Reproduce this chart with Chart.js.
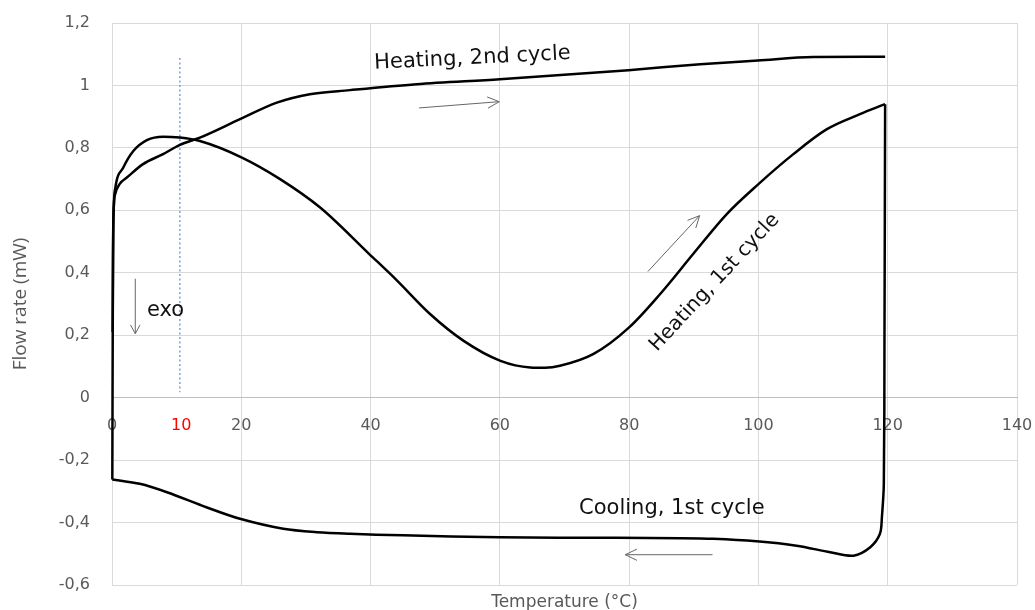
<!DOCTYPE html>
<html>
<head>
<meta charset="utf-8">
<script src="https://cdn.jsdelivr.net/npm/chart.js@4.4.1/dist/chart.umd.min.js"></script>
<style>
  html, body { margin: 0; padding: 0; background: #fff; }
  #wrap { width: 1035px; height: 610px; position: relative; }
</style>
</head>
<body>
<div id="wrap"><canvas id="dsc"></canvas></div>
<script>
// heating, 1st cycle (temperature °C / flow rate mW)
const heat1X = [0.1, 0.2, 0.5, 1.75, 3.3, 5.4, 7.9, 10.5, 13.6, 20.1, 26.0, 32.2, 39.8, 44.1, 49.2, 54.4, 60.1, 64.7, 67.0, 69.3, 74.5, 80.0, 84.8, 89.9, 95.1, 100.0, 105.4, 110.6, 115.7, 119.6];
const heat1Y = [0.21, 0.55, 0.67, 0.737, 0.79, 0.825, 0.836, 0.833, 0.822, 0.769, 0.700, 0.609, 0.460, 0.375, 0.268, 0.182, 0.118, 0.097, 0.096, 0.102, 0.14, 0.225, 0.332, 0.46, 0.588, 0.684, 0.78, 0.86, 0.908, 0.94];

// cooling, 1st cycle
const coolX = [119.6, 119.5, 119.4, 119.1, 118.8, 117.3, 114.7, 111.1, 105.9, 99.7, 93.0, 87.9, 78.1, 60, 45, 36.8, 31.7, 26.5, 19.8, 14.6, 8.5, 4.3, 0.05];
const coolY = [0.94, 0.2, -0.276, -0.383, -0.436, -0.479, -0.506, -0.495, -0.474, -0.46, -0.452, -0.45, -0.449, -0.447, -0.441, -0.436, -0.431, -0.42, -0.388, -0.351, -0.303, -0.276, -0.262];

// heating, 2nd cycle
const heat2X = [0.05, 0.15, 0.3, 0.5, 1.2, 2.3, 4.8, 7.9, 10.5, 13.6, 19.8, 25.5, 30.6, 36.8, 47.1, 60, 79.9, 91, 99.9, 108.5, 119.6];
const heat2Y = [-0.262, 0.45, 0.62, 0.652, 0.685, 0.705, 0.748, 0.78, 0.81, 0.833, 0.892, 0.945, 0.972, 0.985, 1.004, 1.02, 1.049, 1.068, 1.08, 1.091, 1.092];

const toPoints = (xs, ys) => xs.map((v, i) => ({ x: v, y: ys[i] }));
const fmt = v => String(Math.round(v * 10) / 10).replace('.', ',');

const grey = '#595959';
const wide = '"DejaVu Sans", sans-serif';

function arrow(ctx, x1, y1, x2, y2, h, ang) {
  const a = Math.atan2(y2 - y1, x2 - x1);
  ctx.beginPath();
  ctx.moveTo(x1, y1);
  ctx.lineTo(x2, y2);
  ctx.moveTo(x2 - h * Math.cos(a - ang), y2 - h * Math.sin(a - ang));
  ctx.lineTo(x2, y2);
  ctx.lineTo(x2 - h * Math.cos(a + ang), y2 - h * Math.sin(a + ang));
  ctx.stroke();
}

// dotted marker, arrows and the hand-written labels
const notesPlugin = {
  id: 'notes',
  beforeDatasetsDraw(chart) {
    const { ctx, scales: { x, y } } = chart;
    ctx.save();
    ctx.strokeStyle = '#5b8ad8';
    ctx.lineWidth = 1.2;
    ctx.setLineDash([2, 2.5]);
    ctx.beginPath();
    ctx.moveTo(x.getPixelForValue(10.5), y.getPixelForValue(1.088));
    ctx.lineTo(x.getPixelForValue(10.5), y.getPixelForValue(0.017));
    ctx.stroke();
    ctx.restore();
  },
  afterDatasetsDraw(chart) {
    const { ctx, scales: { x, y }, chartArea } = chart;
    const px = v => x.getPixelForValue(v);
    const py = v => y.getPixelForValue(v);
    ctx.save();

    ctx.strokeStyle = '#666';
    ctx.lineWidth = 1;
    arrow(ctx, px(47.5), py(0.928), px(59.9), py(0.948), 13, 0.45);
    arrow(ctx, px(82.9), py(0.404), px(90.9), py(0.583), 13, 0.45);
    arrow(ctx, px(92.9), py(-0.503), px(79.4), py(-0.503), 13, 0.45);
    arrow(ctx, px(3.6), py(0.381), px(3.6), py(0.205), 10, 0.5);

    ctx.fillStyle = '#111';
    ctx.textBaseline = 'alphabetic';
    const notes = [
      ['Heating, 2nd cycle', 55.8, 1.069, -2.9, 'center', 21],
      ['Heating, 1st cycle', 93.8, 0.357, -47, 'center', 20],
      ['Cooling, 1st cycle', 86.6, -0.372, 0, 'center', 21],
      ['exo', 5.4, 0.262, 0, 'left', 21]
    ];
    notes.forEach(([t, vx, vy, deg, align, size]) => {
      ctx.save();
      ctx.font = size + 'px ' + wide;
      ctx.translate(px(vx), py(vy));
      ctx.rotate(deg * Math.PI / 180);
      ctx.textAlign = align;
      ctx.fillText(t, 0, 0);
      ctx.restore();
    });

    // red label for the 10 °C marker, on the tick row
    ctx.font = '16px ' + wide;
    ctx.fillStyle = '#ff0000';
    ctx.textAlign = 'center';
    ctx.textBaseline = 'middle';
    ctx.fillText('10', px(10.7), py(0) + 19 + 9.6);

    // x axis title sits at the bottom edge, not at the crossing axis
    ctx.font = '17px ' + wide;
    ctx.fillStyle = grey;
    ctx.textBaseline = 'alphabetic';
    ctx.fillText('Temperature (°C)', (chartArea.left + chartArea.right) / 2, 607);
    ctx.restore();
  }
};

const line = (pts, smooth) => Object.assign({
  data: pts,
  showLine: true,
  borderColor: '#000',
  borderWidth: 2.5,
  pointRadius: 0,
  clip: 4
}, smooth);

new Chart(document.getElementById('dsc'), {
  type: 'scatter',
  data: {
    datasets: [
      line(toPoints(heat1X, heat1Y), { cubicInterpolationMode: 'monotone' }),
      line(toPoints(coolX, coolY), { tension: 0.3 }),
      line(toPoints(heat2X, heat2Y), { cubicInterpolationMode: 'monotone' })
    ]
  },
  options: {
    responsive: true,
    maintainAspectRatio: false,
    animation: false,
    layout: { padding: { left: 0, right: 18, top: 23, bottom: 25 } },
    plugins: { legend: { display: false }, tooltip: { enabled: false } },
    scales: {
      x: {
        type: 'linear',
        position: { y: 0 },
        min: 0,
        max: 140,
        ticks: { stepSize: 20, padding: 0, color: grey, font: { family: wide, size: 16 }, callback: v => fmt(v) },
        grid: { color: '#d9d9d9', tickLength: 19, tickColor: 'rgba(0,0,0,0)' },
        border: { color: '#bfbfbf' }
      },
      y: {
        min: -0.6,
        max: 1.2,
        ticks: { stepSize: 0.2, padding: 12, color: grey, font: { family: wide, size: 16 }, callback: v => fmt(v) },
        grid: { color: '#d9d9d9', tickLength: 10, tickColor: 'rgba(0,0,0,0)' },
        border: { color: '#d9d9d9' },
        title: {
          display: true,
          text: 'Flow rate (mW)',
          color: grey,
          font: { family: '"Open Sans", sans-serif', size: 19 },
          padding: { top: 9, bottom: 0 }
        },
        afterFit: s => { s.width = 112; }
      }
    }
  },
  plugins: [notesPlugin]
});
</script>
</body>
</html>
